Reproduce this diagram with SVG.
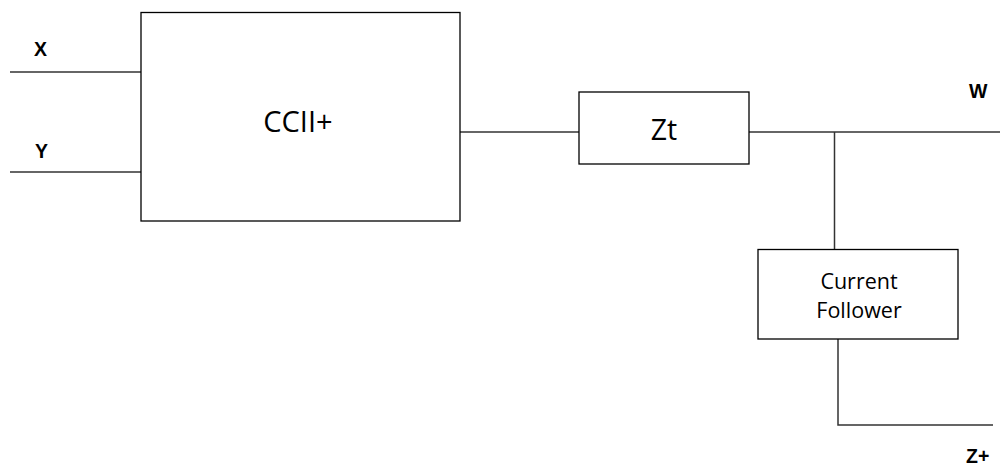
<svg xmlns="http://www.w3.org/2000/svg" width="1002" height="466" viewBox="0 0 1002 466">
<style>
.box{fill:#fff;stroke:#000;stroke-width:1.3}
.wire{fill:none;stroke:#333;stroke-width:1.5}
.lbl{font-family:"Liberation Sans",Arial,sans-serif;font-weight:bold;font-size:19.5px;fill:#000}
.txt{font-family:"Open Sans","Noto Sans",sans-serif;fill:#000;text-anchor:middle}
</style>
<rect width="1002" height="466" fill="#fff"/>
<g id="connectors">
<path class="wire" d="M10 72H141"/>
<path class="wire" d="M10 172H141"/>
<path class="wire" d="M460 132H579"/>
<path class="wire" d="M749 132H1000"/>
<path class="wire" d="M834.5 132V249"/>
<path class="wire" d="M838 339V425H993"/>
</g>
<g id="label-x"><text class="lbl" x="34" y="56">X</text></g>
<g id="label-y"><text class="lbl" x="35" y="158">Y</text></g>
<g id="label-w"><text class="lbl" x="969" y="98">W</text></g>
<g id="label-zplus"><text class="lbl" x="966" y="463">Z+</text></g>
<g id="ccii">
<rect class="box" x="141" y="12.5" width="319" height="208.5"/>
<text class="txt" x="298" y="132" font-size="29">CCII+</text>
</g>
<g id="zt">
<rect class="box" x="579" y="92" width="170" height="72"/>
<text class="txt" x="664" y="140" font-size="28.5">Zt</text>
</g>
<g id="current-follower">
<rect class="box" x="758" y="249.5" width="200" height="89.5"/>
<text class="txt" x="859" y="288.5" font-size="21.5">Current</text>
<text class="txt" x="859" y="318" font-size="21.5">Follower</text>
</g>
</svg>
